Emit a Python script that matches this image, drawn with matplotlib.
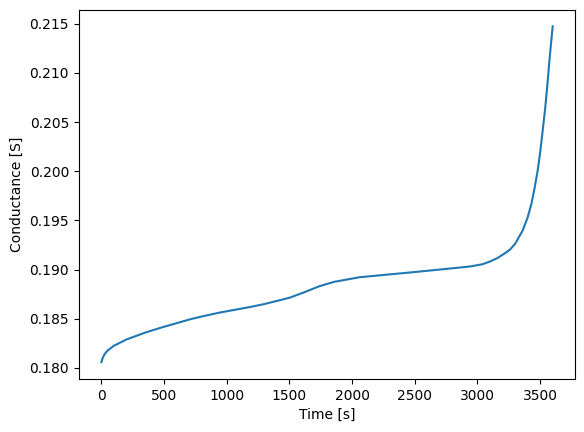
import matplotlib
matplotlib.use("Agg")
import matplotlib.pyplot as plt

# values
time_s = [0, 10, 25, 50, 100, 200, 350, 470, 590, 710, 830, 950, 1070, 1190,
          1300, 1500, 1620, 1740, 1860, 2060, 2460, 2700, 2940, 3040, 3100,
          3160, 3220, 3260, 3300, 3360, 3400, 3430, 3455, 3480, 3500, 3520,
          3540, 3555, 3575, 3600]
conductance = [0.18060, 0.18100, 0.18140, 0.18178, 0.18226, 0.18290, 0.18360,
               0.18408, 0.18452, 0.18496, 0.18532, 0.18565, 0.18593, 0.18621,
               0.18650, 0.18714, 0.18771, 0.18832, 0.18877, 0.18923, 0.18971,
               0.19001, 0.19032, 0.19055, 0.19083, 0.19118, 0.19168, 0.19205,
               0.19262, 0.19397, 0.19530, 0.19668, 0.19825, 0.20006, 0.20190,
               0.20411, 0.20640, 0.20840, 0.21140, 0.21475]

fig, ax = plt.subplots(figsize=(5.84, 4.32), dpi=100)
fig.subplots_adjust(left=0.135, right=0.985, top=0.978, bottom=0.123)

ax.plot(time_s, conductance, color="C0")
ax.set_xlabel("Time [s]")
ax.set_ylabel("Conductance [S]")

fig.savefig("out.png", dpi=100)
